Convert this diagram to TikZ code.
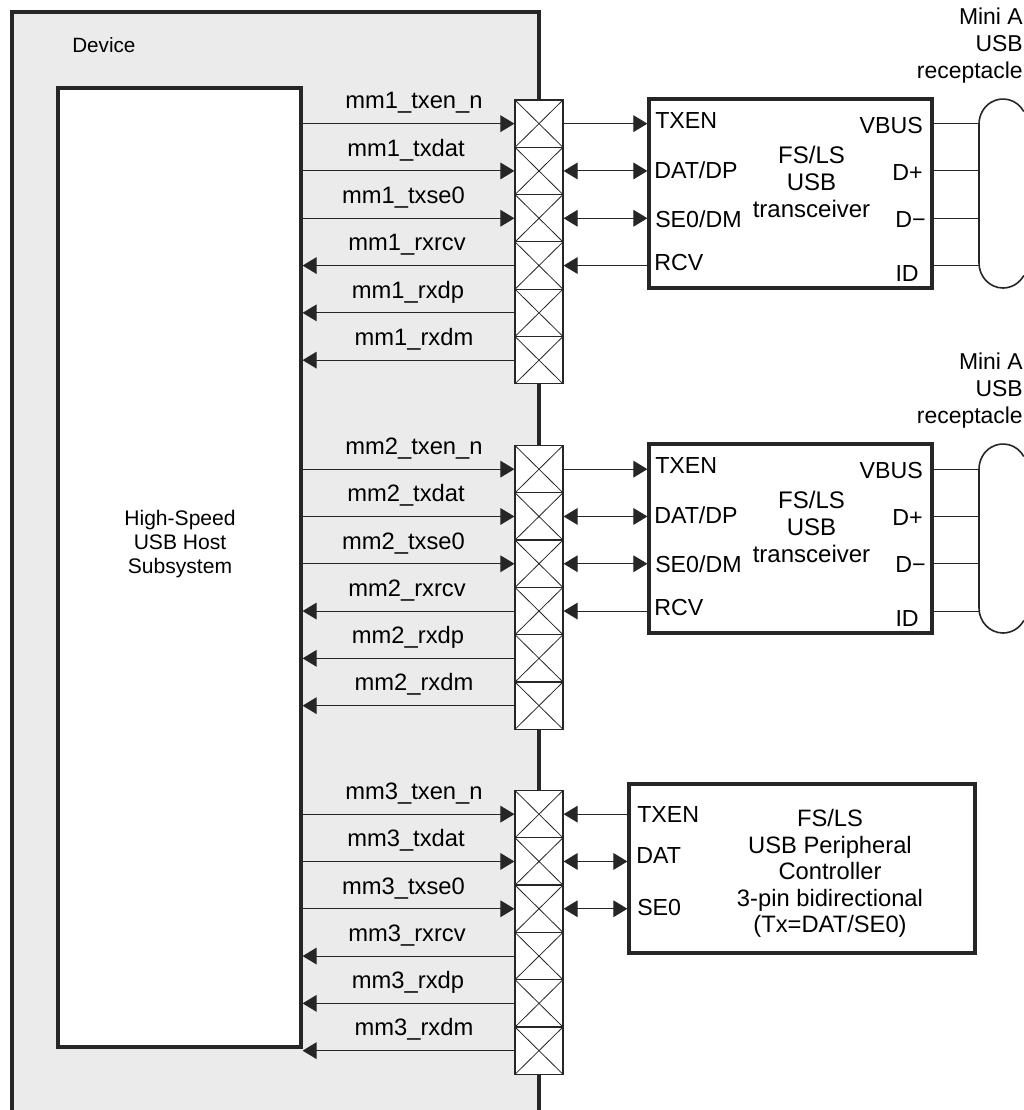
\documentclass[tikz,border=0pt]{standalone}
\usepackage{fontspec}
\setmainfont{Liberation Sans}
\usetikzlibrary{arrows.meta}

\begin{document}
\begin{tikzpicture}[x=.75pt,y=-.75pt,
    frame/.style={draw=black!85,line width=2.4pt,fill=white,inner sep=0pt},
    wire/.style={draw=black!85,line width=.8pt},
    toright/.style={wire,-{Triangle[length=10.5pt,width=12.5pt]}},
    bothways/.style={wire,{Triangle[length=10.5pt,width=12.5pt]}-{Triangle[length=10.5pt,width=12.5pt]}},
    pad/.style={draw=black!85,line width=.9pt,fill=white,minimum width=36pt,minimum height=35.5pt,inner sep=0pt,
      path picture={\draw[black!85,line width=.6pt] (path picture bounding box.north west) -- (path picture bounding box.south east)
        (path picture bounding box.north east) -- (path picture bounding box.south west);}},
    pin/.style={font=\fontsize{17.4}{20}\selectfont,inner sep=0pt},
    sig/.style={font=\fontsize{17.8}{20}\selectfont,inner sep=0pt,anchor=base},
    note/.style={font=\fontsize{18}{20.25}\selectfont,align=center,inner sep=0pt}]
  \useasboundingbox (0,0) rectangle (1024,1110);
  \fill[black!8] (12,12) rectangle (539,1110);
  \draw[black!85,line width=2.4pt] (12,1110) -- (12,12) -- (539,12) -- (539,1110);
  \node[font=\fontsize{15.5}{18}\selectfont,anchor=base west,inner sep=0pt] (device) at (72,52) {Device};
  \node[frame,minimum width=182.25pt,minimum height=719.25pt] (host) at (179.5,567.5) {};
  \node[font=\fontsize{15.8}{18}\selectfont,align=center,inner sep=0pt] (hostname) at (180,544.5) {High-Speed\\USB Host\\Subsystem};

  \foreach \b/\top in {1/100,2/445.5,3/790.5} {
    \foreach \i in {1,...,6} {
      \node[pad] (c\b\i) at (539,{\top+47.3*(\i-.5)}) {};
    }
    \foreach \i/\name/\cx in {1/txen\_n/414,2/txdat/406,3/txse0/403.5} {
      \draw[toright] (host.east |- c\b\i) -- (c\b\i.west);
      \node[sig,yshift=11pt] (s\b\i) at ({\cx},0 |- c\b\i) {mm\b\_\name};
    }
    \foreach \i/\name/\cx in {4/rxrcv/407,5/rxdp/408,6/rxdm/414} {
      \draw[toright] (c\b\i.west) -- (host.east |- c\b\i);
      \node[sig,yshift=11pt] (s\b\i) at ({\cx},0 |- c\b\i) {mm\b\_\name};
    }
  }

  \foreach \b/\dy in {1/0,2/345} {
    \node[frame,minimum width=212.25pt,minimum height=141.75pt] (xcvr\b) at (790.5,{193.5+\dy}) {};
    \node[pin,anchor=base west] (txen\b) at (655,{128+\dy}) {TXEN};
    \node[pin,anchor=base west] (dat\b) at (654,{178+\dy}) {DAT/DP};
    \node[pin,anchor=base west] (se\b) at (655,{227+\dy}) {SE0/DM};
    \node[pin,anchor=base west] (rcv\b) at (654,{270+\dy}) {RCV};
    \node[pin,anchor=base east] (vbus\b) at (923,{133+\dy}) {VBUS};
    \node[pin,anchor=base east] (dp\b) at (923,{180+\dy}) {D+};
    \node[pin,anchor=base east] (dm\b) at (926,{227+\dy}) {D\textminus};
    \node[pin,anchor=base east] (id\b) at (919,{281+\dy}) {ID};
    \node[note] (name\b) at (811.5,{182+\dy}) {FS/LS\\USB\\transceiver};
    \draw[toright] (c\b1.east) -- (xcvr\b.west |- c\b1);
    \draw[bothways] (c\b2.east) -- (xcvr\b.west |- c\b2);
    \draw[bothways] (c\b3.east) -- (xcvr\b.west |- c\b3);
    \draw[toright] (xcvr\b.west |- c\b4) -- (c\b4.east);
    \node[minimum width=36pt,minimum height=141.75pt,inner sep=0pt] (rcpt\b) at (1003,{193.5+\dy}) {};
    \draw[black!85,line width=1.2pt] (1023.8,{111.5+\dy}) arc[start angle=30,end angle=180,x radius=18pt,y radius=18.75pt]
      -- (979,{263+\dy}) arc[start angle=180,end angle=330,x radius=18pt,y radius=18.75pt];
    \foreach \i in {1,...,4} {
      \draw[wire] (xcvr\b.east |- c\b\i) -- (rcpt\b.west |- c\b\i);
    }
    \node[note,font=\fontsize{17.2}{20.25}\selectfont,anchor=north east,align=right] (mini\b) at (1023,{8+\dy}) {Mini A\\USB\\receptacle};
  }

  \node[frame,minimum width=259.5pt,minimum height=126.75pt] (ctrl) at (802,868.5) {};
  \node[pin,anchor=base west] (ctxen) at (637,822) {TXEN};
  \node[pin,anchor=base west] (cdat) at (636,863) {DAT};
  \node[pin,anchor=base west] (cse) at (637,915) {SE0};
  \node[note,font=\fontsize{17.8}{19.9}\selectfont] (ctrlname) at (830,873.5) {FS/LS\\USB Peripheral\\Controller\\3-pin bidirectional\\(Tx=DAT/SE0)};
  \draw[toright] (ctrl.west |- c31) -- (c31.east);
  \draw[bothways] (c32.east) -- (ctrl.west |- c32);
  \draw[bothways] (c33.east) -- (ctrl.west |- c33);
\end{tikzpicture}
\end{document}
